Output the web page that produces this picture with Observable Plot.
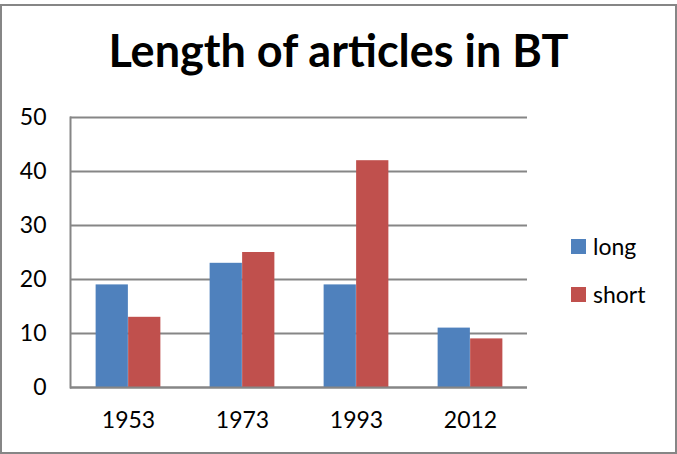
<!DOCTYPE html>
<html>
<head>
<meta charset="utf-8">
<script src="https://cdn.jsdelivr.net/npm/d3@7"></script>
<script src="https://cdn.jsdelivr.net/npm/@observablehq/plot@0.6"></script>
<style>
  html, body { margin: 0; padding: 0; background: #fff; }
  #wrap { position: relative; width: 677px; height: 454px; font-family: Lato, "Open Sans", sans-serif; overflow: hidden; }
  #border { position: absolute; left: 0px; top: 4px; width: 673px; height: 446px; border: 2px solid #868686; pointer-events: none; }
  #title { position: absolute; left: 0; width: 677px; top: 28px; text-align: center; font-weight: bold; font-size: 45px; color: #000; line-height: 1; }
  #legend { position: absolute; left: 571px; top: 233px; font-size: 23px; color: #000; }
  .item { display: flex; align-items: center; height: 26px; margin-bottom: 22px; }
  .sw { width: 15px; height: 15px; margin-right: 7px; }
  svg { position: absolute; left: 0; top: 0; }
</style>
</head>
<body>
<div id="wrap">
  <div id="title">Length of articles in BT</div>
  <div id="legend"></div>
  <div id="border"></div>
</div>
<script>
const years = ["1953", "1973", "1993", "2012"];
const seriesNames = ["long", "short"];
const longValues = [19, 23, 19, 11];
const shortValues = [13, 25, 42, 9];
const yTicks = [0, 10, 20, 30, 40, 50];
const colors = ["#4F81BD", "#C0504D"];

const longData = years.map((y, i) => ({year: y, value: longValues[i], series: "long"}));
const shortData = years.map((y, i) => ({year: y, value: shortValues[i], series: "short"}));

const gray = "#868686";
const step = (527 - 70) / years.length;
const half = step / 2;
const barW = 32.5;

const chart = Plot.plot({
  width: 677,
  height: 454,
  marginLeft: 70,
  marginRight: 150,
  marginTop: 117,
  marginBottom: 67,
  style: {fontFamily: "Lato, 'Open Sans', sans-serif", fontSize: "23px", color: "#000", background: "transparent"},
  x: {domain: years, padding: 0, label: null},
  y: {domain: [0, 50], label: null},
  color: {domain: seriesNames, range: colors},
  marks: [
    Plot.ruleY(yTicks, {stroke: gray, strokeWidth: 2}),
    Plot.barY(longData, {x: "year", y: "value", fill: "series", insetLeft: half - barW, insetRight: half}),
    Plot.barY(shortData, {x: "year", y: "value", fill: "series", insetLeft: half, insetRight: half - barW}),
    Plot.frame({anchor: "left", stroke: gray, strokeWidth: 2}),
    Plot.ruleY([0], {stroke: gray, strokeWidth: 2}),
    Plot.axisY({ticks: yTicks, tickSize: 0, tickPadding: 24, fontSize: 23, label: null}),
    Plot.axisX({tickSize: 0, tickPadding: 24, fontSize: 23, label: null})
  ]
});
document.getElementById("wrap").insertBefore(chart, document.getElementById("title"));

const legend = document.getElementById("legend");
seriesNames.forEach((s, i) => {
  const item = document.createElement("div");
  item.className = "item";
  const sw = document.createElement("div");
  sw.className = "sw";
  sw.style.background = colors[i];
  const t = document.createElement("span");
  t.textContent = s;
  item.appendChild(sw);
  item.appendChild(t);
  legend.appendChild(item);
});
</script>
</body>
</html>
